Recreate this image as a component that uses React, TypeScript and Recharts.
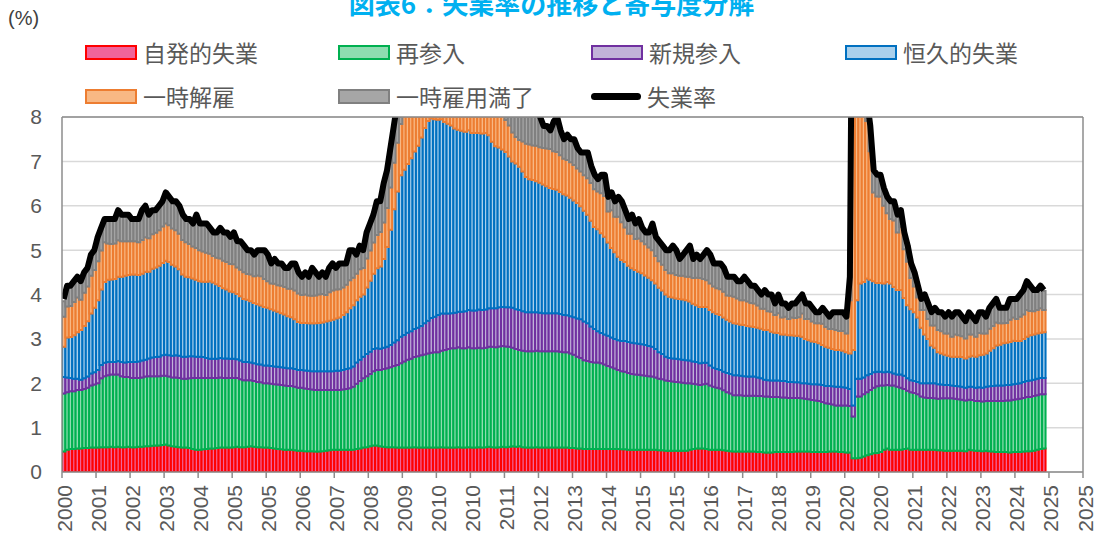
import { ComposedChart, Bar, Line, XAxis, YAxis, CartesianGrid, ReferenceLine } from "recharts";

const title = "図表6：失業率の推移と寄与度分解";

// 月次 2000年12月〜2024年12月（%）
const rate = [
  3.9,
  4.2, 4.2, 4.3, 4.4, 4.3, 4.5, 4.6, 4.9, 5.0, 5.3, 5.5, 5.7,
  5.7, 5.7, 5.7, 5.9, 5.8, 5.8, 5.8, 5.7, 5.7, 5.7, 5.9, 6.0,
  5.8, 5.9, 5.9, 6.0, 6.1, 6.3, 6.2, 6.1, 6.1, 6.0, 5.8, 5.7,
  5.7, 5.6, 5.8, 5.6, 5.6, 5.6, 5.5, 5.4, 5.4, 5.5, 5.4, 5.4,
  5.3, 5.4, 5.2, 5.2, 5.1, 5.0, 5.0, 4.9, 5.0, 5.0, 5.0, 4.9,
  4.7, 4.8, 4.7, 4.7, 4.6, 4.6, 4.7, 4.7, 4.5, 4.4, 4.5, 4.4,
  4.6, 4.5, 4.4, 4.5, 4.4, 4.6, 4.7, 4.6, 4.7, 4.7, 4.7, 5.0,
  5.0, 4.9, 5.1, 5.0, 5.4, 5.6, 5.8, 6.1, 6.1, 6.5, 6.8, 7.3,
  7.8, 8.3, 8.7, 9.0, 9.4, 9.5, 9.5, 9.6, 9.8, 10.0, 9.9, 9.9,
  9.8, 9.8, 9.9, 9.9, 9.6, 9.4, 9.4, 9.5, 9.5, 9.4, 9.8, 9.3,
  9.1, 9.0, 9.0, 9.1, 9.0, 9.1, 9.0, 9.0, 9.0, 8.8, 8.6, 8.5,
  8.3, 8.3, 8.2, 8.2, 8.2, 8.2, 8.2, 8.0, 7.8, 7.8, 7.7, 7.9,
  8.0, 7.7, 7.5, 7.6, 7.5, 7.5, 7.3, 7.2, 7.2, 7.2, 6.9, 6.7,
  6.6, 6.7, 6.7, 6.2, 6.3, 6.1, 6.2, 6.1, 5.9, 5.7, 5.8, 5.6,
  5.7, 5.5, 5.4, 5.4, 5.6, 5.3, 5.2, 5.1, 5.0, 5.0, 5.1, 5.0,
  4.8, 4.9, 5.0, 5.1, 4.8, 4.9, 4.8, 4.9, 5.0, 4.9, 4.7, 4.7,
  4.7, 4.6, 4.4, 4.4, 4.4, 4.3, 4.3, 4.4, 4.3, 4.2, 4.2, 4.1,
  4.0, 4.1, 4.0, 4.0, 3.8, 4.0, 3.8, 3.8, 3.7, 3.8, 3.8, 3.9,
  4.0, 3.8, 3.8, 3.7, 3.6, 3.6, 3.7, 3.6, 3.5, 3.6, 3.6, 3.6,
  3.6, 3.5, 4.4, 14.8, 13.2, 11.0, 10.2, 8.4, 7.8, 6.8, 6.7, 6.7,
  6.4, 6.2, 6.1, 6.1, 5.8, 5.9, 5.4, 5.1, 4.7, 4.5, 4.2, 3.9,
  4.0, 3.8, 3.6, 3.7, 3.6, 3.6, 3.5, 3.6, 3.5, 3.6, 3.6, 3.5,
  3.4, 3.6, 3.5, 3.4, 3.6, 3.6, 3.5, 3.7, 3.8, 3.9, 3.7, 3.7,
  3.7, 3.9, 3.9, 3.9, 4.0, 4.1, 4.3, 4.2, 4.1, 4.1, 4.2, 4.1,
];

const jobLeavers = [
  0.46,
  0.5, 0.52, 0.52, 0.53, 0.53, 0.54, 0.54, 0.55, 0.55, 0.55, 0.56, 0.56,
  0.56, 0.57, 0.56, 0.57, 0.56, 0.56, 0.57, 0.56, 0.56, 0.57, 0.57, 0.58,
  0.58, 0.59, 0.6, 0.6, 0.61, 0.62, 0.6, 0.58, 0.57, 0.56, 0.55, 0.55,
  0.54, 0.52, 0.5, 0.5, 0.51, 0.52, 0.53, 0.53, 0.54, 0.55, 0.55, 0.55,
  0.55, 0.56, 0.57, 0.56, 0.56, 0.57, 0.58, 0.57, 0.56, 0.56, 0.55, 0.55,
  0.54, 0.53, 0.52, 0.51, 0.5, 0.5, 0.5, 0.49, 0.48, 0.48, 0.47, 0.47,
  0.47, 0.46, 0.46, 0.47, 0.48, 0.49, 0.5, 0.5, 0.5, 0.5, 0.5, 0.5,
  0.5, 0.52, 0.53, 0.55, 0.56, 0.58, 0.6, 0.6, 0.58, 0.57, 0.56, 0.56,
  0.56, 0.55, 0.55, 0.55, 0.55, 0.55, 0.56, 0.55, 0.55, 0.55, 0.55, 0.55,
  0.55, 0.55, 0.56, 0.55, 0.55, 0.55, 0.55, 0.56, 0.55, 0.55, 0.56, 0.55,
  0.55, 0.56, 0.55, 0.56, 0.57, 0.56, 0.55, 0.56, 0.57, 0.56, 0.57, 0.58,
  0.57, 0.58, 0.56, 0.55, 0.55, 0.55, 0.56, 0.55, 0.55, 0.55, 0.55, 0.55,
  0.55, 0.55, 0.55, 0.55, 0.54, 0.54, 0.53, 0.53, 0.52, 0.52, 0.52, 0.52,
  0.52, 0.52, 0.52, 0.52, 0.52, 0.52, 0.52, 0.51, 0.51, 0.5, 0.5, 0.5,
  0.5, 0.5, 0.5, 0.5, 0.5, 0.5, 0.49, 0.49, 0.48, 0.48, 0.48, 0.48,
  0.48, 0.48, 0.48, 0.5, 0.52, 0.53, 0.53, 0.53, 0.52, 0.5, 0.5, 0.5,
  0.5, 0.49, 0.48, 0.47, 0.46, 0.46, 0.46, 0.46, 0.46, 0.46, 0.46, 0.45,
  0.45, 0.44, 0.44, 0.44, 0.45, 0.45, 0.45, 0.45, 0.45, 0.45, 0.46, 0.46,
  0.46, 0.46, 0.46, 0.45, 0.45, 0.45, 0.45, 0.45, 0.46, 0.46, 0.46, 0.45,
  0.45, 0.44, 0.44, 0.31, 0.31, 0.32, 0.35, 0.38, 0.4, 0.42, 0.43, 0.45,
  0.5, 0.53, 0.5, 0.5, 0.5, 0.5, 0.52, 0.53, 0.5, 0.5, 0.5, 0.5,
  0.5, 0.5, 0.5, 0.5, 0.49, 0.49, 0.48, 0.48, 0.48, 0.48, 0.48, 0.48,
  0.47, 0.5, 0.49, 0.48, 0.48, 0.47, 0.48, 0.47, 0.46, 0.45, 0.45, 0.45,
  0.45, 0.44, 0.45, 0.45, 0.45, 0.46, 0.47, 0.47, 0.48, 0.5, 0.52, 0.53,
];

const reentrants = [
  1.31,
  1.3, 1.3, 1.3, 1.32, 1.32, 1.33, 1.36, 1.4, 1.42, 1.45, 1.55, 1.6,
  1.62, 1.63, 1.64, 1.63, 1.6, 1.58, 1.57, 1.56, 1.56, 1.55, 1.56, 1.57,
  1.58, 1.57, 1.56, 1.56, 1.56, 1.55, 1.55, 1.55, 1.56, 1.56, 1.55, 1.55,
  1.57, 1.6, 1.62, 1.62, 1.61, 1.6, 1.59, 1.59, 1.58, 1.58, 1.57, 1.57,
  1.57, 1.56, 1.55, 1.53, 1.51, 1.5, 1.49, 1.48, 1.47, 1.46, 1.45, 1.45,
  1.45, 1.45, 1.45, 1.45, 1.45, 1.44, 1.44, 1.43, 1.42, 1.42, 1.41, 1.4,
  1.39, 1.39, 1.39, 1.38, 1.37, 1.36, 1.35, 1.35, 1.35, 1.36, 1.37, 1.39,
  1.42, 1.47, 1.52, 1.56, 1.6, 1.63, 1.67, 1.7, 1.72, 1.75, 1.78, 1.8,
  1.83, 1.86, 1.9, 1.94, 1.98, 2.0, 2.03, 2.06, 2.08, 2.1, 2.12, 2.14,
  2.15, 2.15, 2.17, 2.2, 2.22, 2.24, 2.24, 2.25, 2.24, 2.24, 2.25, 2.24,
  2.24, 2.24, 2.24, 2.24, 2.25, 2.26, 2.26, 2.27, 2.27, 2.27, 2.25, 2.22,
  2.2, 2.17, 2.17, 2.17, 2.17, 2.17, 2.17, 2.17, 2.17, 2.17, 2.17, 2.17,
  2.17, 2.16, 2.15, 2.15, 2.13, 2.1, 2.07, 2.04, 2.0, 1.98, 1.96, 1.95,
  1.95, 1.93, 1.9, 1.87, 1.84, 1.81, 1.78, 1.76, 1.75, 1.73, 1.71, 1.7,
  1.69, 1.68, 1.67, 1.66, 1.65, 1.63, 1.61, 1.6, 1.58, 1.57, 1.56, 1.55,
  1.54, 1.53, 1.52, 1.5, 1.47, 1.45, 1.43, 1.45, 1.47, 1.45, 1.42, 1.4,
  1.38, 1.35, 1.32, 1.3, 1.27, 1.27, 1.27, 1.26, 1.26, 1.26, 1.26, 1.26,
  1.26, 1.26, 1.26, 1.25, 1.24, 1.24, 1.23, 1.23, 1.22, 1.22, 1.21, 1.21,
  1.2, 1.19, 1.18, 1.17, 1.16, 1.15, 1.13, 1.1, 1.08, 1.06, 1.04, 1.05,
  1.05, 1.06, 1.05, 0.94, 1.39, 1.38, 1.4, 1.42, 1.45, 1.48, 1.5, 1.5,
  1.45, 1.43, 1.45, 1.45, 1.42, 1.4, 1.35, 1.3, 1.3, 1.28, 1.25, 1.2,
  1.18, 1.17, 1.17, 1.16, 1.16, 1.17, 1.18, 1.18, 1.18, 1.17, 1.16, 1.15,
  1.14, 1.13, 1.13, 1.12, 1.12, 1.12, 1.12, 1.13, 1.14, 1.15, 1.15, 1.15,
  1.16, 1.17, 1.18, 1.19, 1.2, 1.21, 1.22, 1.22, 1.23, 1.23, 1.23, 1.22,
];

const newEntrants = [
  0.37,
  0.33, 0.3, 0.28, 0.25, 0.23, 0.24, 0.25, 0.27, 0.28, 0.3, 0.3, 0.3,
  0.3, 0.28, 0.28, 0.3, 0.32, 0.33, 0.34, 0.36, 0.36, 0.37, 0.38, 0.38,
  0.4, 0.42, 0.43, 0.44, 0.46, 0.47, 0.48, 0.49, 0.5, 0.5, 0.5, 0.5,
  0.5, 0.49, 0.48, 0.48, 0.47, 0.45, 0.43, 0.43, 0.43, 0.44, 0.44, 0.44,
  0.43, 0.43, 0.42, 0.42, 0.41, 0.41, 0.4, 0.4, 0.4, 0.4, 0.4, 0.4,
  0.4, 0.4, 0.4, 0.4, 0.4, 0.4, 0.4, 0.4, 0.4, 0.4, 0.41, 0.41,
  0.41, 0.42, 0.42, 0.42, 0.42, 0.42, 0.42, 0.43, 0.43, 0.44, 0.45, 0.45,
  0.46, 0.48, 0.48, 0.49, 0.5, 0.5, 0.5, 0.49, 0.48, 0.48, 0.48, 0.5,
  0.53, 0.56, 0.6, 0.6, 0.61, 0.62, 0.63, 0.64, 0.66, 0.7, 0.74, 0.78,
  0.8, 0.84, 0.84, 0.82, 0.8, 0.79, 0.8, 0.8, 0.82, 0.83, 0.84, 0.85,
  0.85, 0.86, 0.86, 0.86, 0.87, 0.87, 0.88, 0.88, 0.88, 0.88, 0.89, 0.9,
  0.9, 0.9, 0.89, 0.88, 0.88, 0.88, 0.87, 0.87, 0.86, 0.86, 0.86, 0.86,
  0.86, 0.85, 0.84, 0.83, 0.84, 0.85, 0.86, 0.87, 0.87, 0.85, 0.8, 0.75,
  0.7, 0.68, 0.68, 0.68, 0.67, 0.67, 0.67, 0.68, 0.69, 0.7, 0.7, 0.7,
  0.7, 0.7, 0.69, 0.68, 0.67, 0.64, 0.6, 0.57, 0.54, 0.52, 0.52, 0.52,
  0.52, 0.52, 0.52, 0.51, 0.5, 0.5, 0.49, 0.48, 0.47, 0.45, 0.43, 0.42,
  0.42, 0.42, 0.43, 0.44, 0.45, 0.45, 0.44, 0.44, 0.43, 0.43, 0.43, 0.42,
  0.4, 0.38, 0.37, 0.37, 0.37, 0.37, 0.37, 0.37, 0.36, 0.36, 0.35, 0.35,
  0.34, 0.35, 0.35, 0.36, 0.37, 0.37, 0.38, 0.39, 0.4, 0.41, 0.42, 0.42,
  0.41, 0.4, 0.38, 0.25, 0.4, 0.4, 0.38, 0.38, 0.36, 0.35, 0.33, 0.31,
  0.3, 0.3, 0.3, 0.27, 0.28, 0.3, 0.3, 0.28, 0.27, 0.27, 0.28, 0.3,
  0.32, 0.33, 0.33, 0.34, 0.33, 0.31, 0.3, 0.3, 0.29, 0.29, 0.29, 0.29,
  0.29, 0.29, 0.3, 0.3, 0.31, 0.31, 0.32, 0.33, 0.34, 0.35, 0.35, 0.35,
  0.35, 0.35, 0.35, 0.35, 0.35, 0.36, 0.36, 0.37, 0.37, 0.37, 0.37, 0.37,
];

const permanentLosers = [
  0.68,
  0.9, 0.92, 0.98, 1.05, 1.12, 1.18, 1.25, 1.35, 1.45, 1.57, 1.7, 1.82,
  1.85, 1.86, 1.87, 1.9, 1.92, 1.95, 1.96, 1.97, 1.97, 1.95, 1.96, 1.98,
  1.95, 2.0, 2.02, 2.05, 2.08, 2.12, 2.1, 2.05, 2.0, 1.95, 1.85, 1.8,
  1.78, 1.75, 1.73, 1.7, 1.7, 1.72, 1.75, 1.72, 1.68, 1.62, 1.58, 1.55,
  1.52, 1.5, 1.47, 1.45, 1.42, 1.4, 1.38, 1.36, 1.35, 1.33, 1.32, 1.3,
  1.28, 1.26, 1.24, 1.22, 1.2, 1.17, 1.15, 1.12, 1.08, 1.06, 1.07, 1.07,
  1.08, 1.08, 1.09, 1.1, 1.12, 1.14, 1.16, 1.18, 1.2, 1.24, 1.28, 1.35,
  1.38, 1.4, 1.42, 1.4, 1.5, 1.6, 1.7, 1.8, 1.85, 2.0, 2.25, 2.6,
  3.0, 3.35, 3.64, 3.72, 3.8, 3.9, 4.0, 4.1, 4.25, 4.4, 4.5, 4.5,
  4.45, 4.4, 4.38, 4.32, 4.28, 4.23, 4.15, 4.1, 4.08, 4.05, 4.05, 4.0,
  4.0, 3.98, 3.98, 3.98, 3.9, 3.75, 3.65, 3.6, 3.55, 3.5, 3.4, 3.3,
  3.28, 3.23, 3.15, 3.05, 3.0, 2.98, 2.95, 2.93, 2.9, 2.86, 2.82, 2.8,
  2.78, 2.75, 2.72, 2.7, 2.67, 2.63, 2.6, 2.55, 2.5, 2.45, 2.38, 2.3,
  2.3, 2.25, 2.2, 2.1, 2.02, 1.95, 1.88, 1.83, 1.78, 1.72, 1.68, 1.65,
  1.62, 1.6, 1.57, 1.54, 1.5, 1.48, 1.45, 1.43, 1.4, 1.38, 1.37, 1.36,
  1.36, 1.36, 1.35, 1.33, 1.3, 1.28, 1.27, 1.26, 1.26, 1.25, 1.25, 1.24,
  1.24, 1.22, 1.2, 1.18, 1.17, 1.16, 1.15, 1.15, 1.14, 1.13, 1.12, 1.12,
  1.12, 1.12, 1.13, 1.1, 1.08, 1.07, 1.05, 1.05, 1.05, 1.05, 1.05, 1.05,
  1.05, 1.0, 0.98, 0.96, 0.95, 0.93, 0.9, 0.88, 0.86, 0.84, 0.83, 0.83,
  0.82, 0.8, 0.8, 1.25, 1.77, 2.15, 2.15, 2.18, 2.12, 2.05, 2.0, 2.0,
  2.0, 2.02, 2.0, 1.95, 1.9, 1.9, 1.75, 1.65, 1.6, 1.55, 1.45, 1.25,
  1.1, 1.0, 0.85, 0.8, 0.72, 0.7, 0.68, 0.66, 0.65, 0.66, 0.67, 0.67,
  0.66, 0.68, 0.7, 0.7, 0.72, 0.74, 0.75, 0.8, 0.85, 0.9, 0.92, 0.95,
  0.95, 0.97, 0.98, 0.96, 0.95, 0.97, 1.0, 1.02, 1.02, 1.02, 1.02, 1.03,
];

const tempLayoff = [
  0.68,
  0.7, 0.7, 0.75, 0.78, 0.68, 0.75, 0.78, 0.85, 0.85, 0.88, 0.88, 0.9,
  0.82, 0.8, 0.8, 0.82, 0.8, 0.78, 0.76, 0.75, 0.75, 0.74, 0.76, 0.78,
  0.76, 0.78, 0.78, 0.8, 0.82, 0.84, 0.83, 0.82, 0.82, 0.8, 0.78, 0.78,
  0.75, 0.72, 0.72, 0.7, 0.68, 0.65, 0.62, 0.6, 0.6, 0.62, 0.62, 0.62,
  0.62, 0.63, 0.6, 0.6, 0.6, 0.58, 0.6, 0.6, 0.65, 0.66, 0.63, 0.6,
  0.58, 0.6, 0.6, 0.62, 0.62, 0.62, 0.64, 0.65, 0.64, 0.63, 0.64, 0.63,
  0.62, 0.63, 0.64, 0.64, 0.6, 0.64, 0.66, 0.65, 0.64, 0.62, 0.62, 0.63,
  0.62, 0.6, 0.62, 0.6, 0.65, 0.68, 0.7, 0.75, 0.78, 0.82, 0.88, 0.95,
  1.05, 1.1, 1.15, 1.25, 1.4, 1.4, 1.3, 1.25, 1.2, 1.2, 1.1, 1.05,
  1.0, 0.98, 0.95, 0.95, 0.9, 0.88, 0.85, 0.85, 0.85, 0.82, 0.85, 0.8,
  0.8, 0.78, 0.78, 0.8, 0.78, 0.8, 0.78, 0.76, 0.75, 0.72, 0.7, 0.65,
  0.6, 0.6, 0.68, 0.75, 0.78, 0.78, 0.8, 0.8, 0.82, 0.85, 0.88, 0.85,
  0.85, 0.83, 0.8, 0.8, 0.8, 0.8, 0.78, 0.78, 0.8, 0.82, 0.85, 0.85,
  0.85, 0.9, 0.92, 0.7, 0.85, 0.8, 0.9, 0.85, 0.78, 0.72, 0.78, 0.7,
  0.75, 0.72, 0.7, 0.68, 0.68, 0.62, 0.6, 0.58, 0.55, 0.53, 0.55, 0.53,
  0.52, 0.53, 0.53, 0.56, 0.58, 0.62, 0.65, 0.63, 0.6, 0.6, 0.58, 0.58,
  0.58, 0.58, 0.55, 0.58, 0.6, 0.57, 0.55, 0.56, 0.55, 0.53, 0.53, 0.5,
  0.45, 0.48, 0.42, 0.45, 0.4, 0.45, 0.38, 0.4, 0.37, 0.4, 0.4, 0.42,
  0.52, 0.45, 0.48, 0.45, 0.42, 0.45, 0.48, 0.45, 0.42, 0.45, 0.45, 0.43,
  0.45, 0.42, 1.2, 11.5, 8.9, 6.3, 5.4, 3.55, 2.9, 2.0, 1.95, 1.95,
  1.75, 1.55, 1.45, 1.5, 1.3, 1.42, 1.1, 0.98, 0.7, 0.58, 0.45, 0.4,
  0.55, 0.45, 0.45, 0.5, 0.5, 0.5, 0.48, 0.5, 0.45, 0.5, 0.48, 0.47,
  0.45, 0.5, 0.48, 0.45, 0.5, 0.48, 0.45, 0.5, 0.5, 0.52, 0.48, 0.45,
  0.45, 0.5, 0.52, 0.5, 0.55, 0.55, 0.6, 0.55, 0.52, 0.53, 0.55, 0.5,
];

const tempJobEnded = [
  0.35,
  0.45, 0.44, 0.45, 0.45, 0.4, 0.44, 0.4, 0.45, 0.43, 0.52, 0.5, 0.5,
  0.55, 0.56, 0.55, 0.66, 0.6, 0.6, 0.6, 0.5, 0.5, 0.52, 0.65, 0.68,
  0.53, 0.54, 0.5, 0.55, 0.57, 0.68, 0.62, 0.6, 0.63, 0.62, 0.56, 0.5,
  0.55, 0.52, 0.72, 0.58, 0.6, 0.64, 0.56, 0.52, 0.55, 0.66, 0.62, 0.64,
  0.58, 0.68, 0.56, 0.6, 0.57, 0.52, 0.52, 0.47, 0.55, 0.56, 0.62, 0.57,
  0.43, 0.53, 0.47, 0.48, 0.41, 0.45, 0.54, 0.58, 0.46, 0.4, 0.48, 0.4,
  0.6, 0.5, 0.4, 0.47, 0.4, 0.52, 0.58, 0.47, 0.55, 0.52, 0.46, 0.65,
  0.6, 0.42, 0.5, 0.4, 0.56, 0.58, 0.6, 0.72, 0.66, 0.84, 0.82, 0.86,
  0.8, 0.85, 0.84, 0.9, 1.02, 1.0, 0.95, 0.97, 1.02, 1.02, 0.86, 0.85,
  0.83, 0.86, 0.97, 1.02, 0.83, 0.7, 0.8, 0.92, 0.93, 0.9, 1.2, 0.85,
  0.64, 0.56, 0.57, 0.64, 0.6, 0.84, 0.86, 0.9, 0.95, 0.85, 0.77, 0.82,
  0.72, 0.8, 0.72, 0.78, 0.8, 0.82, 0.82, 0.65, 0.48, 0.5, 0.4, 0.64,
  0.76, 0.54, 0.42, 0.55, 0.5, 0.56, 0.44, 0.42, 0.5, 0.55, 0.38, 0.32,
  0.28, 0.4, 0.46, 0.32, 0.38, 0.34, 0.43, 0.45, 0.37, 0.32, 0.41, 0.33,
  0.42, 0.3, 0.27, 0.33, 0.58, 0.42, 0.44, 0.42, 0.44, 0.5, 0.6, 0.54,
  0.37, 0.46, 0.58, 0.67, 0.42, 0.5, 0.42, 0.53, 0.65, 0.62, 0.5, 0.54,
  0.56, 0.52, 0.41, 0.42, 0.44, 0.38, 0.42, 0.5, 0.45, 0.38, 0.4, 0.34,
  0.32, 0.4, 0.37, 0.38, 0.26, 0.4, 0.32, 0.3, 0.26, 0.32, 0.33, 0.4,
  0.42, 0.34, 0.34, 0.3, 0.25, 0.25, 0.35, 0.32, 0.27, 0.36, 0.38, 0.4,
  0.4, 0.36, 0.5, 0.52, 0.42, 0.43, 0.5, 0.47, 0.55, 0.48, 0.47, 0.47,
  0.38, 0.35, 0.38, 0.4, 0.38, 0.36, 0.36, 0.34, 0.32, 0.3, 0.26, 0.24,
  0.34, 0.34, 0.3, 0.38, 0.38, 0.41, 0.36, 0.45, 0.43, 0.47, 0.48, 0.42,
  0.37, 0.48, 0.38, 0.33, 0.45, 0.46, 0.36, 0.45, 0.48, 0.5, 0.34, 0.34,
  0.33, 0.45, 0.4, 0.43, 0.48, 0.52, 0.6, 0.55, 0.46, 0.43, 0.48, 0.43,
];

// 目盛ラベル（10か月ごと）
const xTickLabels = [
  "2000", "2001", "2002", "2003", "2004", "2005", "2005", "2006", "2007", "2008", "2009",
  "2010", "2010", "2011", "2012", "2013", "2014", "2015", "2015", "2016", "2017",
  "2018", "2019", "2020", "2020", "2021", "2022", "2023", "2024", "2025", "2025",
];
const xTicks = xTickLabels.map((_, i) => i * 10);
const yTicks = [0, 1, 2, 3, 4, 5, 6, 7, 8];

const seriesList = [
  { key: "jobLeavers", name: "自発的失業", fill: "#F0649A", stroke: "#FF0000" },
  { key: "reentrants", name: "再参入", fill: "#8EDDB0", stroke: "#00B050" },
  { key: "newEntrants", name: "新規参入", fill: "#C2B2D9", stroke: "#7030A0" },
  { key: "permanentLosers", name: "恒久的失業", fill: "#A9D0EC", stroke: "#0070C0" },
  { key: "tempLayoff", name: "一時解雇", fill: "#F8B884", stroke: "#ED7D31" },
  { key: "tempJobEnded", name: "一時雇用満了", fill: "#A6A6A6", stroke: "#808080" },
];

const data = rate.map((r, i) => ({
  x: i + 0.5,
  month: `${2000 + Math.floor((i + 11) / 12)}/${((i + 11) % 12) + 1}`,
  rate: r,
  jobLeavers: jobLeavers[i],
  reentrants: reentrants[i],
  newEntrants: newEntrants[i],
  permanentLosers: permanentLosers[i],
  tempLayoff: tempLayoff[i],
  tempJobEnded: tempJobEnded[i],
}));

const NUM_FONT = "'Liberation Sans', Arial, sans-serif";
const JP_FONT = "'Noto Sans CJK JP', 'Noto Sans', sans-serif";

const XTick = (props: any) => {
  const { x, y, payload } = props;
  const label = xTickLabels[Math.round(payload.value / 10)];
  const tx = x + 2;
  const ty = y + 5;
  return (
    <text
      x={tx}
      y={ty}
      transform={`rotate(-90 ${tx} ${ty})`}
      textAnchor="end"
      dominantBaseline="central"
      fontSize={21}
      fontFamily={NUM_FONT}
      fill="#595959"
    >
      {label}
    </text>
  );
};

const legendRows = [
  [seriesList[0], seriesList[1], seriesList[2], seriesList[3]],
  [seriesList[4], seriesList[5], null],
];

function LegendBlock() {
  const cols = [85, 338, 591, 845];
  const rowsY = [52, 96];
  return (
    <>
      {legendRows.map((row, r) =>
        row.map((s, c) => (
          <div
            key={`${r}-${c}`}
            style={{
              position: "absolute",
              left: cols[c],
              top: rowsY[r] - 16,
              height: 32,
              display: "flex",
              alignItems: "center",
              fontFamily: JP_FONT,
              fontSize: 23,
              color: "#595959",
              whiteSpace: "nowrap",
            }}
          >
            {s ? (
              <div
                style={{
                  width: 48,
                  height: 11,
                  background: s.fill,
                  border: `2px solid ${s.stroke}`,
                  marginRight: 6,
                }}
              />
            ) : (
              <div
                style={{
                  width: 50,
                  height: 7,
                  background: "#000",
                  borderRadius: 4,
                  marginRight: 6,
                }}
              />
            )}
            <span>{s ? s.name : "失業率"}</span>
          </div>
        ))
      )}
    </>
  );
}

export default function App() {
  return (
    <div
      style={{
        position: "absolute",
        left: 0,
        top: 0,
        width: 1095,
        height: 545,
        background: "#fff",
        overflow: "hidden",
      }}
    >
      <div
        style={{
          position: "absolute",
          left: 0,
          width: 1103,
          top: -10,
          textAlign: "center",
          fontFamily: JP_FONT,
          fontWeight: 700,
          fontSize: 26,
          lineHeight: "26px",
          color: "#00B0F0",
        }}
      >
        {title}
      </div>
      <div
        style={{
          position: "absolute",
          left: 8,
          top: 7,
          fontFamily: NUM_FONT,
          fontSize: 20,
          color: "#404040",
        }}
      >
        (%)
      </div>
      <LegendBlock />
      <ComposedChart
        width={1095}
        height={545}
        data={data}
        margin={{ top: 117, right: 12, bottom: 0, left: 0 }}
        barGap={0}
        barCategoryGap={0}
      >
        <CartesianGrid vertical={false} stroke="#D9D9D9" strokeWidth={1.5} />
        <XAxis
          type="number"
          dataKey="x"
          domain={[0, 300]}
          ticks={xTicks}
          interval={0}
          height={73}
          tick={<XTick />}
          tickSize={6}
          tickLine={{ stroke: "#8C8C8C", strokeWidth: 1.5 }}
          axisLine={{ stroke: "#8C8C8C", strokeWidth: 1.5 }}
          allowDataOverflow
        />
        <YAxis
          domain={[0, 8]}
          ticks={yTicks}
          interval={0}
          width={62}
          tickLine={false}
          tickSize={0}
          tickMargin={20}
          axisLine={{ stroke: "#8C8C8C", strokeWidth: 1.5 }}
          tick={{ fontSize: 21, fill: "#595959", fontFamily: NUM_FONT }}
          allowDataOverflow
        />
        {seriesList.map((s) => (
          <Bar
            key={s.key}
            dataKey={s.key}
            name={s.name}
            stackId="u"
            fill={s.fill}
            stroke={s.stroke}
            strokeWidth={2}
            barSize={3.4}
            isAnimationActive={false}
          />
        ))}
        <Line
          dataKey="rate"
          name="失業率"
          stroke="#000"
          strokeWidth={6}
          strokeLinejoin="round"
          dot={false}
          activeDot={false}
          isAnimationActive={false}
        />
        <ReferenceLine y={8} stroke="#8C8C8C" strokeWidth={1.5} />
        <ReferenceLine x={300} stroke="#8C8C8C" strokeWidth={1.5} />
      </ComposedChart>
    </div>
  );
}
